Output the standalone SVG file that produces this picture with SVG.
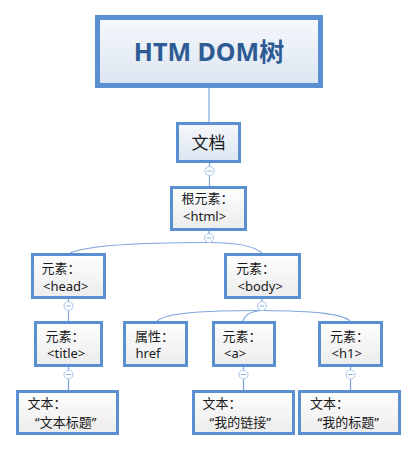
<svg xmlns="http://www.w3.org/2000/svg" width="418" height="452" viewBox="0 0 418 452">
<defs>
<linearGradient id="gBlue" x1="0" y1="0" x2="0" y2="1">
<stop offset="0" stop-color="#f6f8fc"/>
<stop offset="1" stop-color="#dbe5f1"/>
</linearGradient>
<linearGradient id="gGray" x1="0" y1="0" x2="0" y2="1">
<stop offset="0" stop-color="#fefefe"/>
<stop offset="1" stop-color="#ececec"/>
</linearGradient>
</defs>
<style>
.box{fill:url(#gGray);stroke:#5a8fd2;stroke-width:3}
.bbox{fill:url(#gBlue);stroke:#5a8fd2;stroke-width:3}
.t{font-family:"Noto Sans","Noto Sans CJK SC",sans-serif;font-size:13px;fill:#1a1a1a}
.conn path,.conn line{fill:none;stroke:#7ea6dc;stroke-width:1.2}
.tog circle{fill:#ffffff;stroke:#a9c4ea;stroke-width:1}
.tog line{stroke:#8fb0dd;stroke-width:1}
</style>
<rect width="418" height="452" fill="#ffffff"/>
<g id="connectors" class="conn">
<line x1="209" y1="88" x2="209" y2="122"/>
<line x1="209.5" y1="163" x2="209.5" y2="186"/>
<line x1="209" y1="231" x2="209" y2="242.5"/>
<path d="M209,242.5 C150,242.5 88,245 70,253"/>
<path d="M209,242.5 C238,242.5 254,246 262,253"/>
<line x1="68.5" y1="299" x2="68.5" y2="321"/>
<line x1="68.5" y1="367" x2="68.5" y2="390"/>
<line x1="262" y1="299" x2="262" y2="310.5"/>
<path d="M262,310.5 C200,310.5 166,313 157,321"/>
<path d="M262,310.5 C251,311 245,315 243,321"/>
<path d="M262,310.5 C318,311 343,314 350,321"/>
<line x1="243.5" y1="367" x2="243.5" y2="390"/>
<line x1="350.5" y1="367" x2="350.5" y2="390"/>
</g>
<g id="toggles" class="tog">
<g><circle cx="209.5" cy="171" r="4.5"/><line x1="207" y1="171" x2="212" y2="171"/></g>
<g><circle cx="209" cy="238" r="4.5"/><line x1="206.5" y1="238" x2="211.5" y2="238"/></g>
<g><circle cx="68.5" cy="306" r="4.5"/><line x1="66" y1="306" x2="71" y2="306"/></g>
<g><circle cx="262" cy="306" r="4.5"/><line x1="259.5" y1="306" x2="264.5" y2="306"/></g>
<g><circle cx="68.5" cy="374.5" r="4.5"/><line x1="66" y1="374.5" x2="71" y2="374.5"/></g>
<g><circle cx="243.5" cy="374.5" r="4.5"/><line x1="241" y1="374.5" x2="246" y2="374.5"/></g>
<g><circle cx="350.5" cy="374.5" r="4.5"/><line x1="348" y1="374.5" x2="353" y2="374.5"/></g>
</g>
<g id="root-title">
<rect x="97.5" y="17.5" width="223" height="68" fill="url(#gBlue)" stroke="#5a8fd2" stroke-width="5"/>
<text x="209" y="61" text-anchor="middle" font-family="'Noto Sans','Noto Sans CJK SC',sans-serif" font-size="25" font-weight="bold" fill="#2e5b94">HTM DOM树</text>
</g>
<g id="document">
<rect class="bbox" x="177.5" y="123.5" width="62" height="38"/>
<text x="208.5" y="149" text-anchor="middle" class="t" style="font-size:17px">文档</text>
</g>
<g id="html">
<rect class="box" x="171.5" y="187.5" width="74" height="42"/>
<text class="t" x="181.5" y="203">根元素：</text>
<text class="t" x="183" y="221">&lt;html&gt;</text>
</g>
<g id="head">
<rect class="box" x="32.5" y="254.5" width="72" height="43"/>
<text class="t" x="41.5" y="273">元素：</text>
<text class="t" x="43" y="290.5">&lt;head&gt;</text>
</g>
<g id="body">
<rect class="box" x="225.5" y="254.5" width="74" height="43"/>
<text class="t" x="236" y="273">元素：</text>
<text class="t" x="237.5" y="290.5">&lt;body&gt;</text>
</g>
<g id="title">
<rect class="box" x="35.5" y="322.5" width="66" height="43"/>
<text class="t" x="45.5" y="340.5">元素：</text>
<text class="t" x="47" y="358">&lt;title&gt;</text>
</g>
<g id="href">
<rect class="box" x="124.5" y="322.5" width="62" height="43"/>
<text class="t" x="135" y="340.5">属性：</text>
<text class="t" x="135.5" y="358">href</text>
</g>
<g id="a">
<rect class="box" x="213.5" y="322.5" width="61" height="43"/>
<text class="t" x="222.5" y="340.5">元素：</text>
<text class="t" x="224" y="358">&lt;a&gt;</text>
</g>
<g id="h1">
<rect class="box" x="319.5" y="322.5" width="62" height="43"/>
<text class="t" x="330" y="340.5">元素：</text>
<text class="t" x="331.5" y="358">&lt;h1&gt;</text>
</g>
<g id="text-title">
<rect class="box" x="17.5" y="391.5" width="100" height="42"/>
<text class="t" x="27.5" y="408">文本：</text>
<text class="t" x="35" y="426.5">“文本标题”</text>
</g>
<g id="text-link">
<rect class="box" x="193.5" y="391.5" width="100" height="42"/>
<text class="t" x="202.5" y="408">文本：</text>
<text class="t" x="209.5" y="426.5">“我的链接”</text>
</g>
<g id="text-h1">
<rect class="box" x="299.5" y="391.5" width="100" height="42"/>
<text class="t" x="310" y="408">文本：</text>
<text class="t" x="317.5" y="426.5">“我的标题”</text>
</g>
</svg>
